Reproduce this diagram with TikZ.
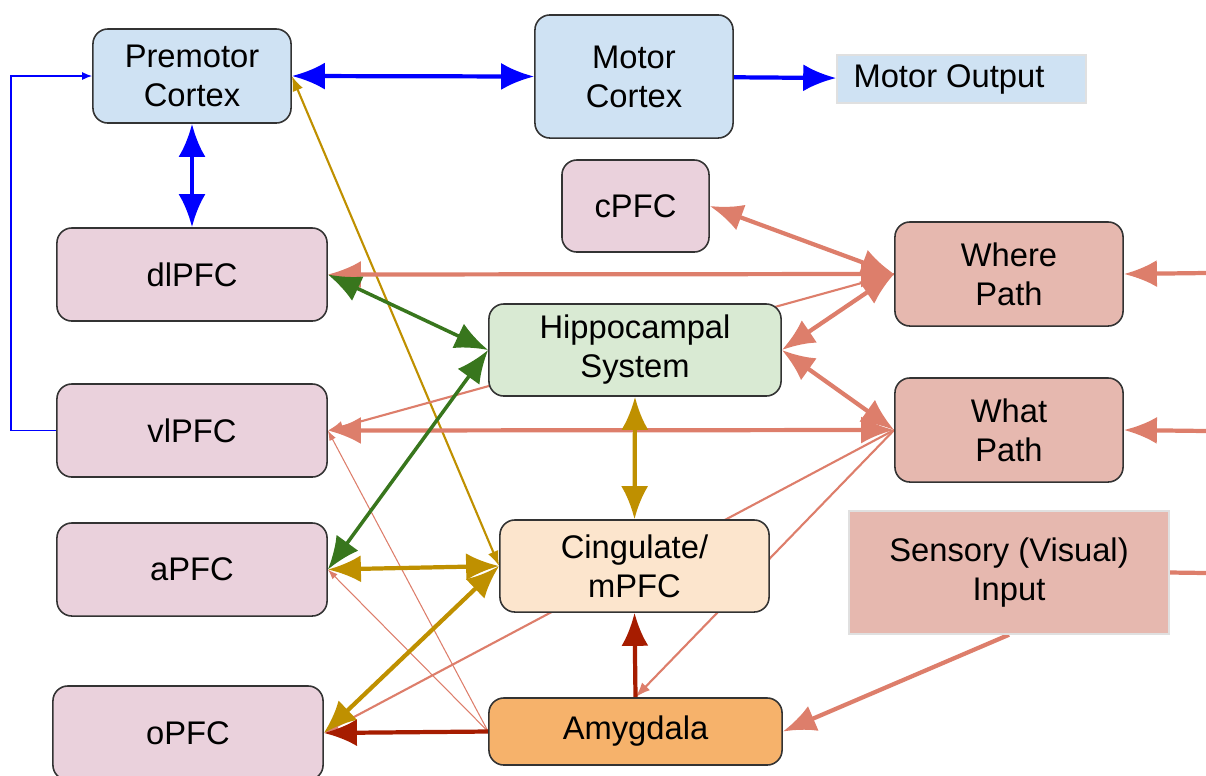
\documentclass[tikz,border=0pt]{standalone}
\usepackage{fontspec}
\setmainfont{Liberation Sans}
\usepackage{xcolor}
\usepackage{tikz}
\usetikzlibrary{arrows.meta}
\pgfdeclarelayer{bg}
\pgfsetlayers{bg,main}
\definecolor{motorfill}{HTML}{CFE2F3}
\definecolor{pfcfill}{HTML}{EAD1DC}
\definecolor{pathfill}{HTML}{E6B8AF}
\definecolor{hipfill}{HTML}{D9EAD3}
\definecolor{cingfill}{HTML}{FCE5CD}
\definecolor{amyfill}{HTML}{F6B26B}
\definecolor{salmon}{HTML}{DD7E6B}
\definecolor{leaf}{HTML}{38761D}
\definecolor{gold}{HTML}{BF9000}
\definecolor{rust}{HTML}{A61C00}

\begin{document}
\begin{tikzpicture}[x=0.01cm,y=-0.01cm,font=\fontsize{9.3}{11.1}\selectfont,
  box/.style={draw=black!80,line width=0.45pt,rounded corners=0.15cm,align=center,inner sep=0pt},
  flat/.style={draw=black!12,line width=0.4pt,align=center,inner sep=0pt},
  fat/.style={line width=1.2pt,>={Latex[length=0.33cm,width=0.27cm]}},
  slim/.style={line width=0.6pt,>={Latex[length=0.15cm,width=0.11cm]}},
  hair/.style={line width=0.3pt,>={Latex[length=0.1cm,width=0.07cm]}}]
\useasboundingbox (0,0) rectangle (1206,775);
\node[box,fill=motorfill,minimum width=1.98cm,minimum height=0.94cm] (pm) at (192,76) {Premotor\\Cortex};
\node[box,fill=motorfill,minimum width=1.98cm,minimum height=1.23cm] (mc) at (634,76.5) {Motor\\Cortex};
\node[flat,fill=motorfill,minimum width=2.49cm,minimum height=0.48cm] (mo) at (961.5,79) {Motor Output\hspace{0.25cm}};
\node[box,fill=pfcfill,minimum width=1.47cm,minimum height=0.92cm] (cpfc) at (635.5,206) {cPFC};
\node[box,fill=pfcfill,minimum width=2.7cm,minimum height=0.93cm] (dl) at (192,274.5) {dlPFC};
\node[box,fill=pathfill,minimum width=2.28cm,minimum height=1.04cm] (where) at (1009,274) {Where\\Path};
\node[box,fill=hipfill,minimum width=2.92cm,minimum height=0.92cm] (hip) at (635,350) {Hippocampal\\System};
\node[box,fill=pfcfill,minimum width=2.7cm,minimum height=0.93cm] (vl) at (192,430.5) {vlPFC};
\node[box,fill=pathfill,minimum width=2.28cm,minimum height=1.04cm] (what) at (1009,430) {What\\Path};
\node[flat,fill=pathfill,minimum width=3.2cm,minimum height=1.23cm] (sens) at (1009,572.5) {Sensory (Visual)\\Input};
\node[box,fill=pfcfill,minimum width=2.7cm,minimum height=0.93cm] (apfc) at (192,569.5) {aPFC};
\node[box,fill=cingfill,minimum width=2.69cm,minimum height=0.92cm] (cing) at (634.5,566) {Cingulate/\\mPFC};
\node[box,fill=pfcfill,minimum width=2.7cm,minimum height=0.94cm] (opfc) at (188,733) {oPFC};
\node[box,fill=amyfill,minimum width=2.93cm,minimum height=0.67cm] (amy) at (635.5,731.5) {Amygdala};
\coordinate (inwhere) at (1206,273);
\coordinate (inwhat) at (1206,431);
\coordinate (insens) at (1206,573);
\begin{pgfonlayer}{bg}
\draw[fat,blue,<->] (pm.east) -- (mc.west);
\draw[fat,blue,->] (mc) -- (mo);
\draw[fat,blue,<->] (pm.south) -- (dl.north);
\draw[blue,line width=0.4pt,-{Latex[length=0.1cm,width=0.08cm]}] (vl.west) -- ++(-45,0) |- (pm.west);
\draw[slim,gold,<->] (pm.east) -- (cing.west);
\foreach \a/\b in {cpfc.east/where.west,dl.east/where.west,hip.east/where.west,vl.east/what.west,hip.east/what.west}
  \draw[fat,salmon,<->] (\a) -- (\b);
\foreach \a/\b in {inwhere/where.east,inwhat/what.east,sens.south/amy.east}
  \draw[fat,salmon,->] (\a) -- (\b);
\draw[fat,salmon] (sens.east) -- (insens);
\foreach \a/\b in {where.west/vl.east,what.west/opfc.east,what.west/amy.north}
  \draw[slim,salmon,->] (\a) -- (\b);
\foreach \b in {vl.east,apfc.east}
  \draw[hair,salmon,->] (amy.west) -- (\b);
\foreach \b in {dl.east,apfc.east}
  \draw[fat,leaf,line width=1pt,<->] (\b) -- (hip.west);
\foreach \a/\b in {hip.south/cing.north,apfc.east/cing.west,opfc.east/cing.west}
  \draw[fat,gold,<->] (\a) -- (\b);
\draw[fat,rust,->] (amy.west) -- (opfc.east);
\draw[fat,rust,->] (amy.north) -- (cing.south);
\end{pgfonlayer}
\end{tikzpicture}
\end{document}
